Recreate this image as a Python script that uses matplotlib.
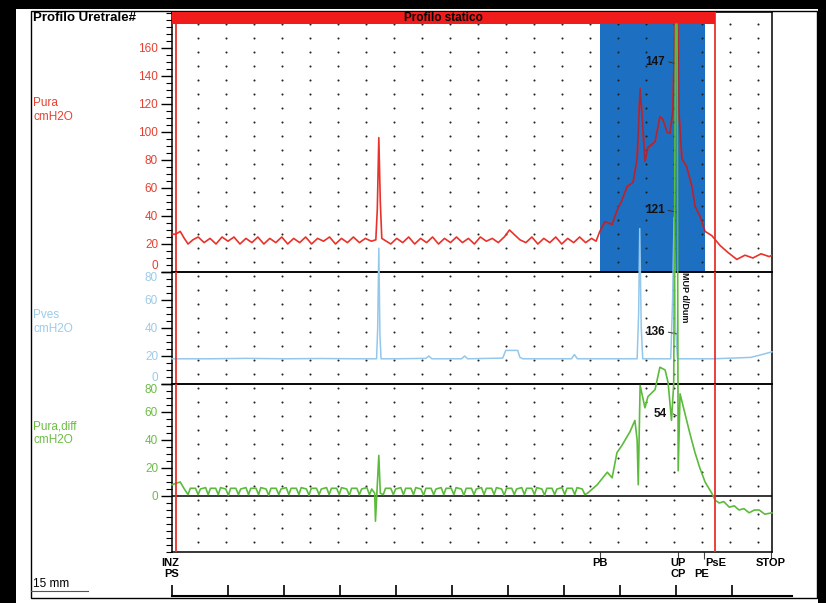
import matplotlib
matplotlib.use('Agg')
import matplotlib.pyplot as plt
import numpy as np
from matplotlib.ticker import MultipleLocator, FixedLocator, NullLocator
from matplotlib.patches import Rectangle
from matplotlib.lines import Line2D
from matplotlib.transforms import blended_transform_factory

plt.rcParams['font.family'] = ['Liberation Sans', 'DejaVu Sans']

# ---------------- data (x in mm along the profile) ----------------
pura_x = [0.0, 1.0, 2.2, 3.3, 4.3, 5.6, 7.0, 8.6, 10.2, 11.8,
          13.4, 15.0, 16.6, 18.2, 19.8, 21.4, 23.0, 24.6, 26.2, 27.8,
          29.4, 31.0, 32.6, 34.2, 35.8, 37.4, 39.0, 40.6, 42.2, 43.8,
          45.4, 47.0, 48.6, 50.2, 51.8, 53.4, 54.6, 55.0, 55.4, 55.8,
          56.2, 57.4, 58.6, 60.2, 61.8, 63.4, 65.0, 66.6, 68.2, 69.8,
          71.4, 73.0, 74.6, 76.2, 77.8, 79.4, 81.0, 82.6, 84.2, 85.8,
          87.4, 89.0, 90.4, 91.2, 92.0, 93.2, 94.8, 96.4, 98.0, 99.6,
          101.2, 102.8, 104.4, 106.0, 107.6, 109.2, 110.8, 112.4, 113.6, 114.6,
          116.0, 117.9, 119.2, 120.5, 121.9, 123.5, 124.6, 125.4, 126.0, 126.7,
          127.5, 129.4, 130.7, 131.5, 132.6, 133.4, 134.2, 134.8, 135.4, 135.8,
          136.6, 137.9, 139.3, 140.1, 141.4, 142.8, 144.6, 146.8, 148.9, 151.3,
          153.5, 155.6, 157.8, 160.0, 160.7]
pura = [27, 27, 29, 24, 20, 23, 25, 21, 24, 20,
        25, 22, 25, 20, 24, 21, 25, 20, 24, 21,
        25, 20, 24, 21, 25, 20, 24, 22, 25, 20,
        24, 21, 25, 21, 24, 22, 23, 45, 96, 50,
        24, 22, 20, 24, 21, 25, 20, 24, 21, 25,
        20, 24, 21, 25, 21, 24, 20, 25, 22, 24,
        21, 25, 30, 28, 26, 23, 21, 25, 20, 24,
        21, 25, 20, 24, 21, 25, 21, 24, 22, 29,
        36, 34, 44, 51, 61, 64, 81, 131, 109, 79,
        89, 93, 111, 109, 100, 99, 116, 190, 190, 114,
        81, 75, 61, 47, 40, 29, 26, 19, 14, 9,
        12, 10, 13, 11, 12]

pves_x = [0.0, 10.0, 20.0, 30.0, 40.0, 50.0, 54.8, 55.1, 55.4, 55.7,
          56.0, 60.0, 68.0, 68.8, 69.6, 77.6, 78.4, 79.2, 88.6, 89.4,
          92.6, 93.2, 94.0, 107.0, 107.8, 108.6, 114.0, 124.6, 125.0, 125.3,
          125.7, 126.1, 133.6, 134.1, 134.5, 134.9, 135.4, 145.0, 150.0, 155.0,
          158.0, 160.7]
pves = [18, 18, 18.3, 18, 18.2, 18, 18, 40, 97, 35,
        18, 18, 18.3, 20, 18, 18, 20, 18, 18.5, 24,
        24, 19, 18, 18, 21, 18, 18, 18, 50, 111,
        40, 18, 18, 60, 119, 40, 18, 18, 18.5, 19,
        21, 23]

diff_x = [0.0, 1.0, 2.2, 3.3,
          4.3, 4.9, 6.3, 7.0, 7.6, 9.0, 9.7, 10.3, 11.7, 12.4, 13.0, 14.4,
          15.1, 15.7, 17.1, 17.8, 18.4, 19.8, 20.5, 21.1, 22.5, 23.2, 23.8, 25.2,
          25.9, 26.5, 27.9, 28.6, 29.2, 30.6, 31.3, 31.9, 33.3, 34.0, 34.6, 36.0,
          36.7, 37.3, 38.7, 39.4, 40.0, 41.4, 42.1, 42.7, 44.1, 44.8, 45.4, 46.8,
          47.5, 48.1, 49.5, 50.2, 50.8, 52.2, 52.9, 53.5,
          54.3, 54.5, 54.9, 55.4, 55.8,
          56.6, 57.2, 58.6, 59.3, 59.9, 61.3, 62.0, 62.6, 64.0, 64.7, 65.3, 66.7,
          67.4, 68.0, 69.4, 70.1, 70.7, 72.1, 72.8, 73.4, 74.8, 75.5, 76.1, 77.5,
          78.2, 78.8, 80.2, 80.9, 81.5, 82.9, 83.6, 84.2, 85.6, 86.3, 86.9, 88.3,
          89.0, 89.6, 91.0, 91.7, 92.3, 93.7, 94.4, 95.0, 96.4, 97.1, 97.7, 99.1,
          99.8, 100.4, 101.8, 102.5, 103.1, 104.5, 105.2, 105.8, 107.2, 107.9, 108.5, 109.9,
          110.6, 111.3, 113.9, 116.6, 117.9, 119.2, 120.5, 122.7, 124.0, 124.6, 124.9,
          125.4, 126.7, 127.5, 129.4, 130.7, 132.1, 132.9, 133.8, 134.4, 134.9, 135.3,
          135.6, 136.1, 137.4, 138.7, 140.1, 141.4, 142.8, 144.6, 145.5, 146.6, 147.8,
          149.3, 150.6, 151.9, 153.2, 154.6, 156.0, 157.3, 158.8, 160.7]
diff = [8, 9, 10, 5,
        1, 5.5, 5.5, 1, 5, 6, 1, 5.5, 5.5, 1, 6, 5,
        0.5, 5.5, 5.5, 1, 5, 6, 1, 5.5, 5.5, 1, 6, 5,
        0.5, 5.5, 5.5, 1, 5, 6, 1, 5.5, 5.5, 1, 6, 5,
        0.5, 5.5, 5.5, 1, 5, 6, 1, 5.5, 5.5, 1, 6, 5,
        0.5, 5.5, 5.5, 1, 5, 6, 1, 5,
        2, -18, 3, 29, 2,
        1, 5.5, 5.5, 1, 5, 6, 1, 5.5, 5.5, 1, 6, 5,
        0.5, 5.5, 5.5, 1, 5, 6, 1, 5.5, 5.5, 1, 6, 5,
        0.5, 5.5, 5.5, 1, 5, 6, 1, 5.5, 5.5, 1, 6, 5,
        0.5, 5.5, 5.5, 1, 5, 6, 1, 5.5, 5.5, 1, 6, 5,
        0.5, 5.5, 5.5, 1, 5, 6, 1, 5.5, 5.5, 1, 6, 5,
        1, 2, 8, 17, 13, 31, 36, 46, 54, 40, 8,
        79, 63, 71, 76, 92, 90, 81, 54, 80, 337, 337,
        18, 73, 59, 45, 31, 20, 10, 2, -3, -5, -4,
        -8, -7, -10, -9, -12, -10, -10, -13, -12]

# event markers (mm)
ev_top_names = ["INZ", "PB", "UP", "PsE", "STOP"]
ev_top_pos = [-0.4, 114.6, 135.5, 145.6, 160.4]
ev_bot_names = ["PS", "CP", "PE"]
ev_bot_pos = [0.0, 135.5, 142.0]
ev_tick_pos = [114.6, 135.5, 142.6, 160.5]
inz_pos, pb_pos, pe_pos, pse_pos, up_pos = 1.2, 114.6, 142.8, 145.5, 135.4

# annotation values
ann_text = ["147", "121", "136", "54"]
ann_x = [129.5, 129.3, 129.4, 130.7]
ann_y = [150.0, 44.0, 37.0, 58.6]

pura_ticks = [0, 20, 40, 60, 80, 100, 120, 140, 160]
pves_ticks = [0, 20, 40, 60, 80]
diff_ticks = [0, 20, 40, 60, 80]

# ---------------- styling ----------------
RED = '#e8322a'
RED_DARK = '#a12a3e'
LBLUE = '#93c8ec'
GREEN = '#5cbb3c'
BLUE_RECT = '#1d6fc2'
LRED = '#e8402f'
LBL_BLUE = '#9ccbe8'
LBL_GREEN = '#6cbd45'

W, H = 826, 603
fig = plt.figure(figsize=(W / 100, H / 100), dpi=100, facecolor='black')


def fx(px):
    return px / W


def fy(py):
    return 1 - py / H


# white page and frame
fig.patches.append(Rectangle((fx(16), fy(603)), fx(818) - fx(16), fy(9) - fy(603),
                             transform=fig.transFigure, facecolor='white',
                             edgecolor='none', zorder=-10))
fig.patches.append(Rectangle((fx(31), fy(598)), fx(817) - fx(31), fy(11) - fy(598),
                             transform=fig.transFigure, facecolor='none',
                             edgecolor='black', lw=1.0, zorder=-5))

L, R = 172, 772
ax1 = fig.add_axes([fx(L), fy(272), fx(R) - fx(L), fy(12) - fy(272)])
ax2 = fig.add_axes([fx(L), fy(384), fx(R) - fx(L), fy(272) - fy(384)])
ax3 = fig.add_axes([fx(L), fy(552), fx(R) - fx(L), fy(384) - fy(552)])

XMAX = (R - L) / 3.733
ylims = [(0, 260 / 1.4), (0, 80), (-40, 80)]
tick_sets = [pura_ticks, pves_ticks, diff_ticks]
lbl_colors = [LRED, LBL_BLUE, LBL_GREEN]

for ax, yl, tks, c in zip([ax1, ax2, ax3], ylims, tick_sets, lbl_colors):
    ax.set_facecolor('none')
    ax.set_xlim(0, XMAX)
    ax.set_ylim(*yl)
    ax.yaxis.set_major_locator(FixedLocator(tks))
    ax.yaxis.set_minor_locator(MultipleLocator(5))
    ax.tick_params(axis='y', which='major', length=8, width=1.0, direction='out',
                   labelsize=8.5, labelcolor=c, pad=2, color='black')
    ax.tick_params(axis='y', which='minor', length=4, width=0.8, direction='out',
                   color='black')
    ax.xaxis.set_major_locator(NullLocator())
    for s in ax.spines.values():
        s.set_color('black')
        s.set_linewidth(1.1)
    # dot lattice
    xs = np.arange(7.0, XMAX, 7.5)
    ys = np.arange(-33.0 if yl[0] < 0 else 7.0, yl[1] - 8 if ax is ax1 else yl[1], 10.0)
    gx, gy = np.meshgrid(xs, ys)
    ax.scatter(gx.ravel(), gy.ravel(), s=2.2, color='#222222', lw=0, zorder=2)
    ax.axvline(inz_pos, color=RED, lw=1.3, zorder=6)
    ax.axvline(pse_pos, color=RED, lw=1.3, zorder=6)

# separator label alignment
ax1.yaxis.get_major_ticks()[0].label1.set_verticalalignment('bottom')
ax2.yaxis.get_major_ticks()[0].label1.set_verticalalignment('bottom')
ax2.yaxis.get_major_ticks()[-1].label1.set_verticalalignment('top')
ax3.yaxis.get_major_ticks()[-1].label1.set_verticalalignment('top')

# top panel: blue zone, red bar, Pura trace
bar_bottom = (272 - 24) / 1.4
blue = Rectangle((pb_pos, 0), pe_pos - pb_pos, bar_bottom, facecolor=BLUE_RECT,
                 edgecolor='none', zorder=1)
ax1.add_patch(blue)
ax1.add_patch(Rectangle((0, bar_bottom), pse_pos, ylims[0][1] - bar_bottom,
                        facecolor='#f01c1c', edgecolor='none', zorder=8))
ax1.text(pse_pos / 2, (bar_bottom + ylims[0][1]) / 2, "Profilo statico",
         ha='center', va='center', fontsize=8.5, fontweight='bold', zorder=9)
ax1.plot(pura_x, pura, color=RED, lw=1.2, zorder=3)
dark, = ax1.plot(pura_x, pura, color=RED_DARK, lw=1.2, zorder=4)
dark.set_clip_path(blue)

# middle panel: Pves
ax2.plot(pves_x, pves, color=LBLUE, lw=1.1, zorder=3, clip_on=False)

# bottom panel: Pura,diff
ax3.axhline(0, color='black', lw=1.1, zorder=2)
ax3.plot(diff_x, diff, color=GREEN, lw=1.2, zorder=3, clip_on=False)
ax3.xaxis.set_major_locator(FixedLocator(ev_tick_pos))
ax3.tick_params(axis='x', which='major', length=5, width=0.8, direction='out',
                labelbottom=False, color='#444444')

# annotations
axes_for_ann = [ax1, ax1, ax2, ax3]
for a, t, x, y in zip(axes_for_ann, ann_text, ann_x, ann_y):
    a.text(x, y, t, ha='center', va='center', fontsize=8.5, fontweight='bold',
           color='#111111', zorder=10, clip_on=False)
    a.plot([x + 3.6, up_pos - 0.3], [y, y - 1.2], color='#333333', lw=0.7,
           zorder=10, clip_on=False)
ax2.text(137.3, 62, "MUP d/Dum", rotation=-90, ha='center', va='center',
         fontsize=6.5, fontweight='bold', color='#111111', zorder=10, clip_on=False)

# left labels and title
fig.text(fx(33), fy(18), "Profilo Uretrale#", fontsize=9.5, fontweight='bold',
         ha='left', va='center')
fig.text(fx(33), fy(110), "Pura\ncmH2O", fontsize=8.5, color=LRED, ha='left',
         va='center', linespacing=1.15)
fig.text(fx(33), fy(322), "Pves\ncmH2O", fontsize=8.5, color=LBL_BLUE, ha='left',
         va='center', linespacing=1.15)
fig.text(fx(33), fy(433), "Pura,diff\ncmH2O", fontsize=8.5, color=LBL_GREEN,
         ha='left', va='center', linespacing=1.15)

# event labels under the plot
tr = blended_transform_factory(ax3.transData, fig.transFigure)
for n, p in zip(ev_top_names, ev_top_pos):
    fig.text(p, fy(563), n, transform=tr, ha='center', va='center',
             fontsize=8, fontweight='bold')
for n, p in zip(ev_bot_names, ev_bot_pos):
    fig.text(p, fy(574), n, transform=tr, ha='center', va='center',
             fontsize=8, fontweight='bold')

# scale ruler
axr = fig.add_axes([fx(L), fy(596), fx(792) - fx(L), 8 / H])
axr.set_facecolor('none')
axr.set_xlim(0, (792 - L) / 3.733)
axr.set_ylim(0, 1)
for k in ['top', 'left', 'right']:
    axr.spines[k].set_visible(False)
axr.spines['bottom'].set_linewidth(1.5)
axr.xaxis.set_major_locator(FixedLocator(np.arange(0, 151, 15)))
axr.tick_params(axis='x', direction='in', length=8, width=1.2, labelbottom=False)
axr.yaxis.set_major_locator(NullLocator())

fig.text(fx(33), fy(584), "15 mm", fontsize=8.5, ha='left', va='center')
fig.lines.append(Line2D([fx(31), fx(88)], [fy(591), fy(591)], transform=fig.transFigure,
                        color='#555555', lw=0.8))

fig.savefig('out.png', dpi=100, facecolor='black')
